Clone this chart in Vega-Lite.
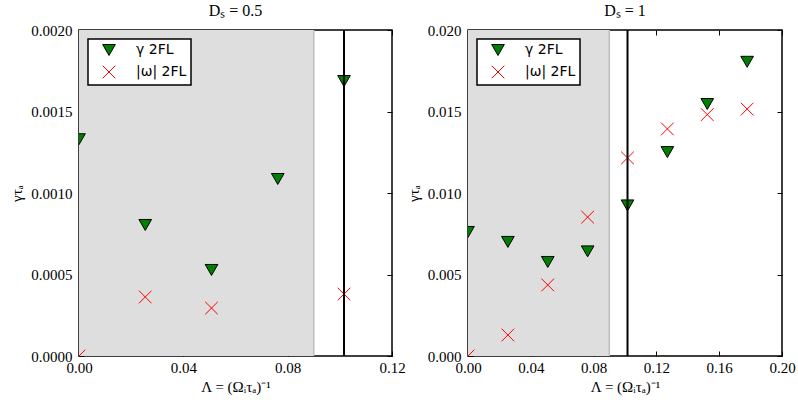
{
  "$schema": "https://vega.github.io/schema/vega-lite/v6.json",
  "background": "white",
  "padding": {"left": 9, "top": 2, "right": 5, "bottom": 5},
  "bounds": "flush",
  "datasets": {
    "pts": [
      {"panel": "0.5", "series": "γ 2FL", "x": 0, "y": 0.00133},
      {"panel": "0.5", "series": "γ 2FL", "x": 0.0254, "y": 0.000804},
      {"panel": "0.5", "series": "γ 2FL", "x": 0.0508, "y": 0.000528},
      {"panel": "0.5", "series": "γ 2FL", "x": 0.0762, "y": 0.001086},
      {"panel": "0.5", "series": "γ 2FL", "x": 0.1016, "y": 0.001687},
      {"panel": "0.5", "series": "|ω| 2FL", "x": 0, "y": 0},
      {"panel": "0.5", "series": "|ω| 2FL", "x": 0.0254, "y": 0.000362},
      {"panel": "0.5", "series": "|ω| 2FL", "x": 0.0508, "y": 0.000294},
      {"panel": "0.5", "series": "|ω| 2FL", "x": 0.1016, "y": 0.00038},
      {"panel": "1", "series": "γ 2FL", "x": 0, "y": 0.00761},
      {"panel": "1", "series": "γ 2FL", "x": 0.0254, "y": 0.0070},
      {"panel": "1", "series": "γ 2FL", "x": 0.0508, "y": 0.00577},
      {"panel": "1", "series": "γ 2FL", "x": 0.0762, "y": 0.00642},
      {"panel": "1", "series": "γ 2FL", "x": 0.1016, "y": 0.00924},
      {"panel": "1", "series": "γ 2FL", "x": 0.127, "y": 0.01251},
      {"panel": "1", "series": "γ 2FL", "x": 0.1524, "y": 0.01546},
      {"panel": "1", "series": "γ 2FL", "x": 0.1778, "y": 0.01805},
      {"panel": "1", "series": "|ω| 2FL", "x": 0, "y": 0},
      {"panel": "1", "series": "|ω| 2FL", "x": 0.0254, "y": 0.00129},
      {"panel": "1", "series": "|ω| 2FL", "x": 0.0508, "y": 0.00436},
      {"panel": "1", "series": "|ω| 2FL", "x": 0.0762, "y": 0.00852},
      {"panel": "1", "series": "|ω| 2FL", "x": 0.1016, "y": 0.01215},
      {"panel": "1", "series": "|ω| 2FL", "x": 0.127, "y": 0.01393},
      {"panel": "1", "series": "|ω| 2FL", "x": 0.1524, "y": 0.01481},
      {"panel": "1", "series": "|ω| 2FL", "x": 0.1778, "y": 0.01515}
    ],
    "lines": [
      {"panel": "0.5", "shade_from": 0, "shade_to": 0.09, "vline": 0.1016},
      {"panel": "1", "shade_from": 0, "shade_to": 0.09, "vline": 0.1016}
    ]
  },
  "config": {
    "view": {"stroke": "black", "strokeWidth": 1.5},
    "axis": {
      "labelFont": "Liberation Serif", "labelFontSize": 15, "labelColor": "black", "labelFlush": false,
      "titleFont": "Liberation Serif", "titleFontSize": 15, "titleFontWeight": "normal", "titleColor": "black",
      "tickColor": "black", "tickSize": -5, "tickWidth": 1, "domain": false, "grid": false, "labelPadding": 12
    },
    "axisBottom": {"labelPadding": 9, "titlePadding": 4},
    "axisLeft": {"titlePadding": 6},
    "title": {"font": "Liberation Serif", "fontSize": 16, "fontWeight": "normal", "color": "black", "offset": 0},
    "legend": {
      "orient": "top-left", "offset": 9, "title": null, "strokeColor": "black", "strokeWidth": 1.5, "fillColor": "white",
      "padding": 4, "labelFont": "DejaVu Sans", "labelFontSize": 14, "labelColor": "black",
      "symbolSize": 160, "symbolStrokeWidth": 1, "rowPadding": 5, "cornerRadius": 0,
      "symbolOffset": 10, "labelOffset": 20
    }
  },
  "spacing": 76,
  "resolve": {"scale": {"fill": "independent", "stroke": "independent", "shape": "independent"}},
  "hconcat": [
    {
      "width": 313, "height": 326,
      "title": "Dₛ = 0.5",
      "resolve": {"axis": {"x": "independent", "y": "independent"}},
      "layer": [
        {
          "data": {"name": "lines"},
          "transform": [{"filter": "datum.panel == '0.5'"}],
          "mark": {"type": "rect", "fill": "#dedede"},
          "encoding": {
            "x": {"field": "shade_from", "type": "quantitative", "axis": null, "scale": {"domain": [0, 0.12], "nice": false}},
            "x2": {"field": "shade_to"}
          }
        },
        {
          "data": {"name": "lines"},
          "transform": [{"filter": "datum.panel == '0.5'"}],
          "mark": {"type": "rule", "color": "#bdbdbd", "strokeWidth": 1.5},
          "encoding": {"x": {"field": "shade_to", "type": "quantitative", "axis": null}}
        },
        {
          "data": {"name": "pts"},
          "transform": [{"filter": "datum.panel == '0.5'"}],
          "mark": {"type": "point", "filled": true, "size": 160, "strokeWidth": 1, "opacity": 1, "clip": true},
          "encoding": {
            "x": {"field": "x", "type": "quantitative", "title": "Λ = (Ωᵢτₐ)⁻¹",
                  "scale": {"domain": [0, 0.12], "nice": false},
                  "axis": {"values": [0, 0.04, 0.08, 0.12], "format": ".2f", "orient": "bottom"}},
            "y": {"field": "y", "type": "quantitative", "title": "γτₐ",
                  "scale": {"domain": [0, 0.002], "nice": false},
                  "axis": {"values": [0, 0.0005, 0.001, 0.0015, 0.002], "format": ".4f", "orient": "left"}},
            "fill": {"field": "series", "type": "nominal", "scale": {"domain": ["γ 2FL", "|ω| 2FL"], "range": ["#008000", "transparent"]}},
            "stroke": {"field": "series", "type": "nominal", "scale": {"domain": ["γ 2FL", "|ω| 2FL"], "range": ["black", "red"]}},
            "shape": {"field": "series", "type": "nominal", "scale": {"domain": ["γ 2FL", "|ω| 2FL"], "range": ["triangle-down", "M-1,-1L1,1M-1,1L1,-1"]}}
          }
        },
        {
          "data": {"name": "lines"},
          "transform": [{"filter": "datum.panel == '0.5'"}],
          "mark": {"type": "rule", "color": "black", "strokeWidth": 2},
          "encoding": {"x": {"field": "vline", "type": "quantitative", "axis": null}}
        },
        {
          "data": {"name": "pts"},
          "transform": [{"filter": "datum.panel == '0.5'"}],
          "mark": {"type": "point", "opacity": 0},
          "encoding": {
            "x": {"field": "x", "type": "quantitative", "axis": {"orient": "top", "values": [0, 0.04, 0.08, 0.12], "labels": false, "title": null}},
            "y": {"field": "y", "type": "quantitative", "axis": {"orient": "right", "values": [0, 0.0005, 0.001, 0.0015, 0.002], "labels": false, "title": null}}
          }
        }
      ]
    },
    {
      "width": 314, "height": 326,
      "title": "Dₛ = 1",
      "resolve": {"axis": {"x": "independent", "y": "independent"}},
      "layer": [
        {
          "data": {"name": "lines"},
          "transform": [{"filter": "datum.panel == '1'"}],
          "mark": {"type": "rect", "fill": "#dedede"},
          "encoding": {
            "x": {"field": "shade_from", "type": "quantitative", "axis": null, "scale": {"domain": [0, 0.2], "nice": false}},
            "x2": {"field": "shade_to"}
          }
        },
        {
          "data": {"name": "lines"},
          "transform": [{"filter": "datum.panel == '1'"}],
          "mark": {"type": "rule", "color": "#bdbdbd", "strokeWidth": 1.5},
          "encoding": {"x": {"field": "shade_to", "type": "quantitative", "axis": null}}
        },
        {
          "data": {"name": "pts"},
          "transform": [{"filter": "datum.panel == '1'"}],
          "mark": {"type": "point", "filled": true, "size": 160, "strokeWidth": 1, "opacity": 1, "clip": true},
          "encoding": {
            "x": {"field": "x", "type": "quantitative", "title": "Λ = (Ωᵢτₐ)⁻¹",
                  "scale": {"domain": [0, 0.2], "nice": false},
                  "axis": {"values": [0, 0.04, 0.08, 0.12, 0.16, 0.2], "format": ".2f", "orient": "bottom"}},
            "y": {"field": "y", "type": "quantitative", "title": "γτₐ",
                  "scale": {"domain": [0, 0.02], "nice": false},
                  "axis": {"values": [0, 0.005, 0.01, 0.015, 0.02], "format": ".3f", "orient": "left"}},
            "fill": {"field": "series", "type": "nominal", "scale": {"domain": ["γ 2FL", "|ω| 2FL"], "range": ["#008000", "transparent"]}},
            "stroke": {"field": "series", "type": "nominal", "scale": {"domain": ["γ 2FL", "|ω| 2FL"], "range": ["black", "red"]}},
            "shape": {"field": "series", "type": "nominal", "scale": {"domain": ["γ 2FL", "|ω| 2FL"], "range": ["triangle-down", "M-1,-1L1,1M-1,1L1,-1"]}}
          }
        },
        {
          "data": {"name": "lines"},
          "transform": [{"filter": "datum.panel == '1'"}],
          "mark": {"type": "rule", "color": "black", "strokeWidth": 2},
          "encoding": {"x": {"field": "vline", "type": "quantitative", "axis": null}}
        },
        {
          "data": {"name": "pts"},
          "transform": [{"filter": "datum.panel == '1'"}],
          "mark": {"type": "point", "opacity": 0},
          "encoding": {
            "x": {"field": "x", "type": "quantitative", "axis": {"orient": "top", "values": [0, 0.04, 0.08, 0.12, 0.16, 0.2], "labels": false, "title": null}},
            "y": {"field": "y", "type": "quantitative", "axis": {"orient": "right", "values": [0, 0.005, 0.01, 0.015, 0.02], "labels": false, "title": null}}
          }
        }
      ]
    }
  ]
}
